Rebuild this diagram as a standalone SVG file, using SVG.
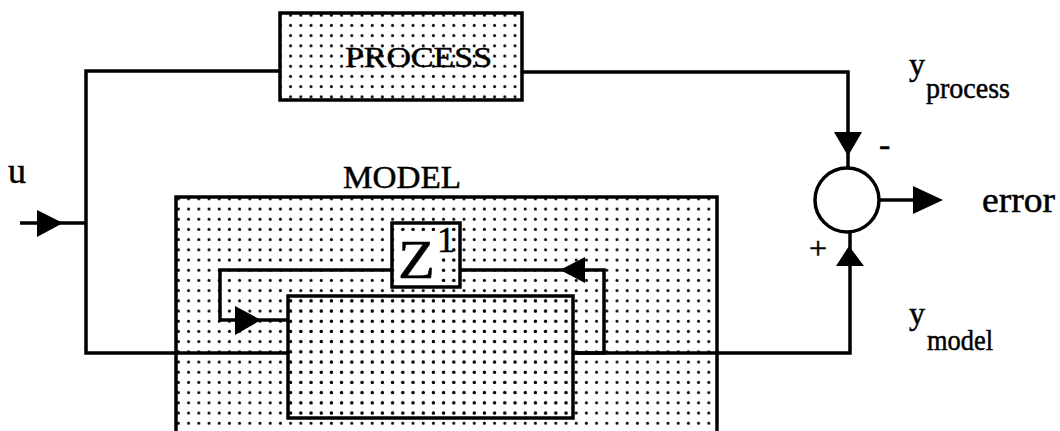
<svg xmlns="http://www.w3.org/2000/svg" width="1060" height="431" viewBox="0 0 1060 431">
<defs>
<pattern id="dots" x="0" y="0" width="10.2" height="10.2" patternUnits="userSpaceOnUse">
<circle cx="5" cy="5" r="1.5" fill="#000"/>
</pattern>
</defs>
<style>
.box{fill:url(#dots);stroke:#000;stroke-width:3.5}
.ln{fill:none;stroke:#000;stroke-width:3.5}
.ah{fill:#000;stroke:none}
.t{font-family:"Liberation Serif","Times New Roman",serif;fill:#000;stroke:#000;stroke-width:0.5}
</style>
<rect width="1060" height="431" fill="#fff"/>
<g id="process">
<rect class="box" x="280" y="13" width="242" height="87"/>
<text class="t" x="345" y="67" font-size="30" textLength="147" lengthAdjust="spacingAndGlyphs">PROCESS</text>
</g>
<g id="model">
<rect class="box" x="176" y="197" width="541" height="250" stroke-width="5.5"/>
<text class="t" x="343" y="188" font-size="32" textLength="118" lengthAdjust="spacingAndGlyphs">MODEL</text>
</g>
<g id="inner">
<rect class="box" x="288" y="296" width="285" height="122"/>
</g>
<g id="delay">
<rect class="box" x="392" y="223" width="68" height="64"/>
<rect x="395" y="237" width="42" height="48" fill="#fff"/>
<rect x="436" y="226" width="14" height="28" fill="#fff"/>
<text class="t" x="398" y="278" font-size="55" textLength="37" lengthAdjust="spacingAndGlyphs">Z</text>
<text class="t" x="437" y="252" font-size="36">1</text>
</g>
<g id="sum">
<circle cx="847" cy="200" r="32" fill="#fff" stroke="#000" stroke-width="3.5"/>
<text class="t" x="879" y="156" font-size="34">-</text>
<text class="t" x="809" y="259" font-size="32">+</text>
</g>
<g id="labels">
<text class="t" x="8" y="183" font-size="36">u</text>
<text class="t" x="982" y="212" font-size="36" textLength="73" lengthAdjust="spacingAndGlyphs">error</text>
<text class="t" x="909" y="75" font-size="32">y</text>
<text class="t" x="926" y="98" font-size="30" textLength="84" lengthAdjust="spacingAndGlyphs">process</text>
<text class="t" x="909" y="324" font-size="32">y</text>
<text class="t" x="927" y="350" font-size="30" textLength="66" lengthAdjust="spacingAndGlyphs">model</text>
</g>
<g id="connectors">
<polyline class="ln" points="20,223 86,223"/>
<polygon class="ah" points="37,210 63,223 37,237"/>
<polyline class="ln" points="280,71 86,71 86,353 288,353"/>
<polyline class="ln" points="522,72 848,72 848,168"/>
<polygon class="ah" points="834,132 862,132 848,156"/>
<polyline class="ln" points="573,353 850,353 850,233"/>
<polygon class="ah" points="836,266 864,266 849,246"/>
<polyline class="ln" points="879,200 915,200"/>
<polygon class="ah" points="913,186 943,200 913,214"/>
<polyline class="ln" points="573,353 604,353 604,270 460,270"/>
<polygon class="ah" points="585,257 560,270 585,283"/>
<polyline class="ln" points="392,270 220,270 220,320 288,320"/>
<polygon class="ah" points="235,306 261,320 235,335"/>
</g>
</svg>
